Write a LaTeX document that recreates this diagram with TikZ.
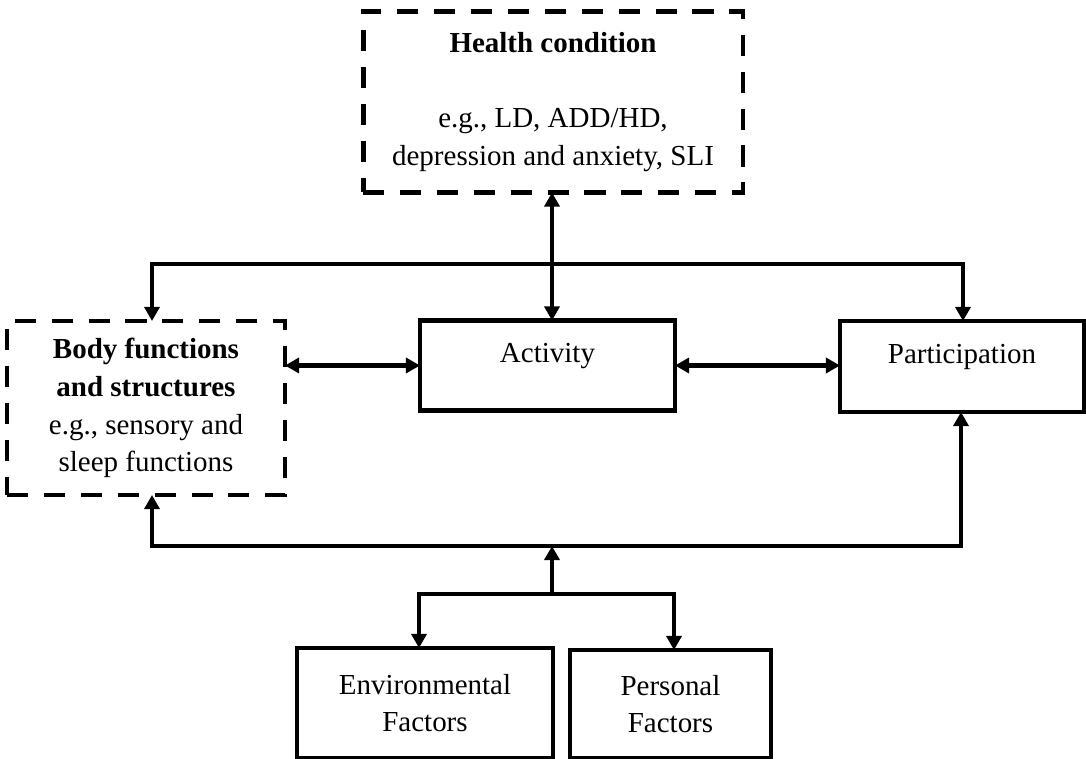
\documentclass[tikz,border=0pt]{standalone}
\usepackage{fontspec}
\setmainfont{Liberation Serif}
\usetikzlibrary{arrows.meta}
\tikzstyle{box}=[draw,line width=2.8pt,fill=none,align=center,inner sep=0pt,outer sep=0pt,font=\fontsize{16.5}{21.5}\selectfont]
\tikzstyle{dashbox}=[box,dash pattern=on 12pt off 9pt]
\tikzstyle{onebox}=[box,text height=12pt,text depth=15.4pt]
\tikzstyle{link}=[draw,line width=2.3pt,-{Triangle[length=8pt,width=8.5pt]}]
\tikzstyle{dlink}=[link,{Triangle[length=8pt,width=8.5pt]}-{Triangle[length=8pt,width=8.5pt]}]

\begin{document}
\begin{tikzpicture}[x=0.02cm,y=-0.02cm]
  \useasboundingbox (0,0) rectangle (1086,759);
  % boxes
  \node[dashbox,minimum width=7.6cm,minimum height=3.62cm] (health) at (553,102)
    {\textbf{Health condition}\\[21pt] e.g., LD, ADD/HD,\\ depression and anxiety, SLI};
  \node[dashbox,minimum width=5.56cm,minimum height=3.48cm] (body) at (146,408)
    {\textbf{Body functions}\\ \textbf{and structures}\\ e.g., sensory and\\ sleep functions};
  \node[onebox,minimum width=5.1cm,minimum height=1.8cm] (act) at (547.5,365.5) {Activity};
  \node[onebox,minimum width=4.88cm,minimum height=1.82cm] (part) at (962,366.5) {Participation};
  \node[box,minimum width=5.12cm,minimum height=2.2cm] (env) at (425,703) {Environmental\\ Factors};
  \node[box,minimum width=4.02cm,minimum height=2.16cm] (pers) at (670.5,704) {Personal\\ Factors};
  % junctions
  \coordinate (mid) at (552,264);
  \coordinate (topl) at (152,264);
  \coordinate (topr) at (963,264);
  \coordinate (botl) at (152,546);
  \coordinate (botr) at (961,546);
  \coordinate (fork) at (552,594);
  \coordinate (forkl) at (419,594);
  \coordinate (forkr) at (674,594);
  % connectors
  \draw[dlink] (health.south -| mid) -- (act.north -| mid);
  \draw[dlink] (body.north -| topl) -- (topl) -- (topr) -- (part.north -| topr);
  \draw[dlink] (body.east |- act.west) -- (act.west);
  \draw[dlink] (act.east) -- (act.east -| part.west);
  \draw[dlink] (body.south -| botl) -- (botl) -- (botr) -- (part.south -| botr);
  \draw[link] (fork) -- (fork |- botl);
  \draw[dlink] (env.north -| forkl) -- (forkl) -- (forkr) -- (pers.north -| forkr);
\end{tikzpicture}
\end{document}
